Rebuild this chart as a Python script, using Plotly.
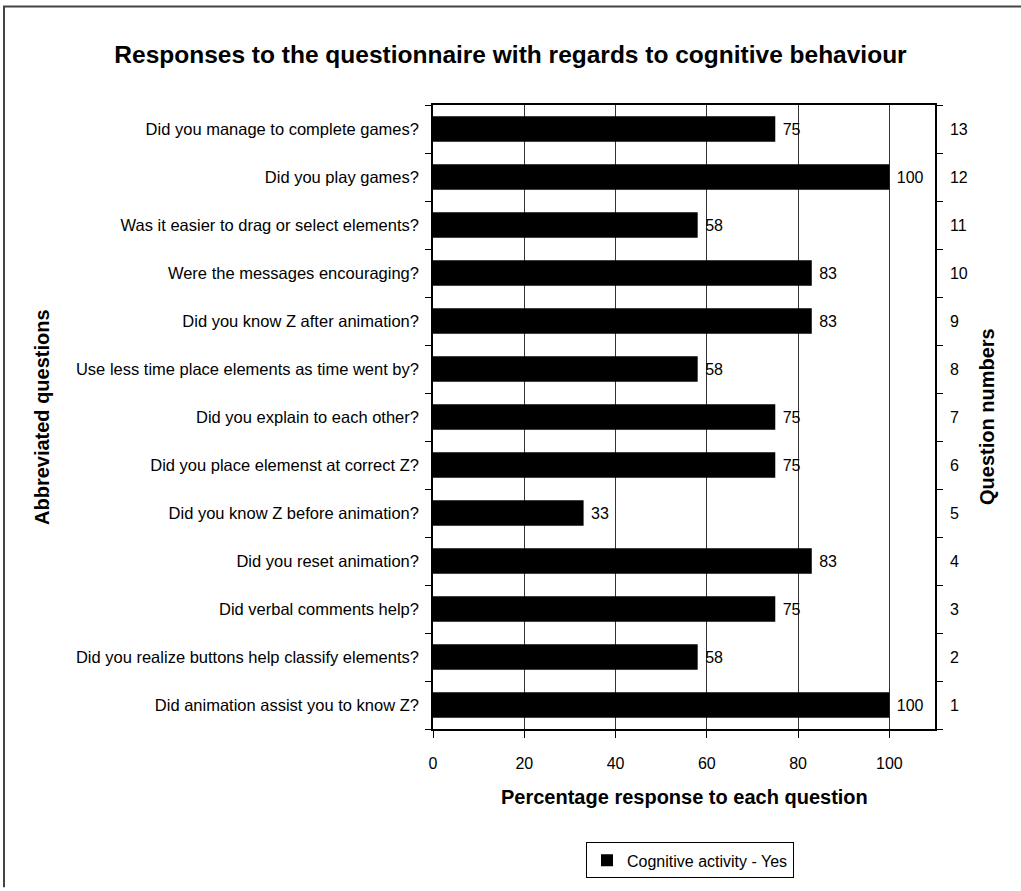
import plotly.graph_objects as go

questions = [
    "Did animation assist you to know Z?",
    "Did you realize buttons help classify elements?",
    "Did verbal comments help?",
    "Did you reset animation?",
    "Did you know Z before animation?",
    "Did you place elemenst at correct Z?",
    "Did you explain to each other?",
    "Use less time place elements as time went by?",
    "Did you know Z after animation?",
    "Were the messages encouraging?",
    "Was it easier to drag or select elements?",
    "Did you play games?",
    "Did you manage to complete games?",
]
question_numbers = [str(i) for i in range(1, 14)]
values = [100, 58, 75, 83, 33, 75, 75, 58, 83, 83, 58, 100, 75]
series_name = "Cognitive activity - Yes"
x_ticks = [0, 20, 40, 60, 80, 100]

FONT = "Liberation Sans, Arial, sans-serif"

L, R, T, B = 433, 935, 105, 732
W, H = 1021, 891
pw, ph = R - L, B - T

def px(x):
    return (x - L) / pw

def py(y):
    return (B - y) / ph

fig = go.Figure()
fig.add_trace(go.Bar(
    x=values, y=questions, orientation="h", name=series_name,
    marker=dict(color="black", line=dict(color="black", width=0)),
    width=0.53,
    text=[f" {v}" for v in values], textposition="outside", cliponaxis=False,
    textfont=dict(family=FONT, size=16, color="black"),
))
fig.add_trace(go.Scatter(
    x=values, y=question_numbers, yaxis="y2", mode="markers",
    marker=dict(opacity=0), showlegend=False, hoverinfo="skip",
))

fig.update_layout(
    width=W, height=H,
    margin=dict(l=L, r=W - R, t=T, b=H - B, pad=0),
    plot_bgcolor="white", paper_bgcolor="white",
    font=dict(family=FONT, size=16, color="black"),
    title=dict(text="<b>Responses to the questionnaire with regards to cognitive behaviour</b>",
               x=0.5, xref="container", xanchor="center",
               y=1 - 54 / H, yref="container", yanchor="middle",
               font=dict(family=FONT, size=24.5, color="black")),
    xaxis=dict(range=[0, 110], tickvals=x_ticks, showgrid=True, gridcolor="#333333",
               gridwidth=1, zeroline=False, showline=True, linecolor="black",
               linewidth=1.5, mirror=True, ticks="outside", ticklen=7,
               tickcolor="black", tickfont=dict(size=16), ticklabelstandoff=12),
    yaxis=dict(type="category", categoryorder="array", categoryarray=questions,
               range=[-0.5, 12.5],
               showline=True, linecolor="black", linewidth=1.5, ticks="outside",
               ticklen=6, tickcolor="black", tickson="boundaries",
               showgrid=False, tickfont=dict(size=16.5), ticklabelstandoff=9),
    yaxis2=dict(type="category", categoryorder="array", categoryarray=question_numbers,
                range=[-0.5, 12.5],
                overlaying="y", side="right", showline=True, linecolor="black",
                linewidth=1.5, ticks="outside", ticklen=6, tickcolor="black",
                tickson="boundaries", showgrid=False, tickfont=dict(size=16),
                ticklabelstandoff=10),
    showlegend=True,
    legend=dict(x=px(586), xanchor="left", y=py(846), yanchor="top",
                bordercolor="black", borderwidth=1, bgcolor="white",
                font=dict(size=16), itemwidth=30, tracegroupgap=0),
    shapes=[dict(type="path", xref="paper", yref="paper",
                 path=f"M {px(4)} {py(891)} L {px(4)} {py(6)} L {px(1021)} {py(6)}",
                 line=dict(color="#444444", width=2), layer="below")],
    annotations=[
        dict(text="<b>Percentage response to each question</b>", xref="paper", yref="paper",
             x=0.5, y=py(800), xanchor="center", yanchor="middle", showarrow=False,
             font=dict(size=20)),
        dict(text="<b>Abbreviated questions</b>", xref="paper", yref="paper",
             x=px(42), y=0.5, xanchor="center", yanchor="middle", showarrow=False,
             textangle=-90, font=dict(size=20)),
        dict(text="<b>Question numbers</b>", xref="paper", yref="paper",
             x=px(987), y=0.5, xanchor="center", yanchor="middle", showarrow=False,
             textangle=-90, font=dict(size=20)),
    ],
)

fig.write_html("out.html", config={"displayModeBar": False},
               post_script="document.body.style.margin='0';")
